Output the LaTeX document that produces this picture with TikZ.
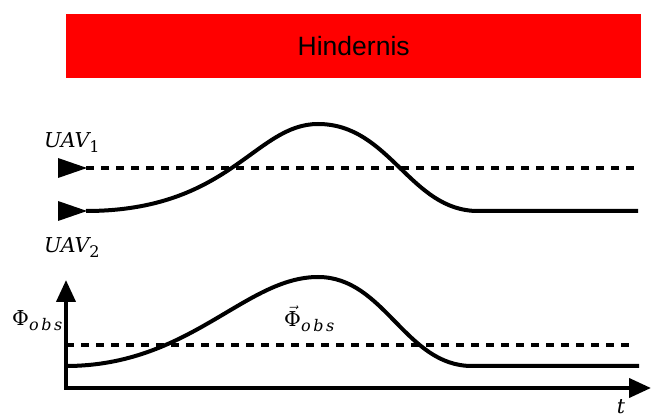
\documentclass[tikz,border=0pt]{standalone}
\usepackage{fontspec}
\setmainfont{DejaVu Serif}
\newfontfamily\hfont{Liberation Sans}
\usetikzlibrary{arrows.meta}
\definecolor{obsred}{RGB}{255,0,0}
\newcommand\mysub[1]{\raisebox{-5pt}{\fontsize{16}{16}\selectfont #1}}
\tikzset{
  curve/.style={line width=4pt, line cap=butt},
  dashline/.style={line width=4pt, dash pattern=on 8pt off 7pt},
  axis/.style={line width=4pt, -{Triangle[length=22pt,width=19pt]}},
  lab/.style={inner sep=0pt, font=\fontsize{20.5}{22}\selectfont},
  tri/.style={fill=black, draw=none}
}
\begin{document}
\begin{tikzpicture}[x=1pt,y=-1pt]
\useasboundingbox (0,0) rectangle (651,419);
% obstacle
\node[fill=obsred, draw=none, minimum width=575pt, minimum height=64pt, inner sep=0pt, anchor=north west,
      font=\hfont\fontsize{26.5}{28}\selectfont] (obs) at (66,14) {Hindernis};
% UAV 1
\coordinate (u1s) at (86,168);
\coordinate (u1e) at (638,168);
\fill[tri] (58,158) -- (87,168) -- (58,178) -- cycle;
\draw[dashline] (u1s) -- (u1e);
\node[lab, anchor=base west] (l1) at (44,148) {\itshape UAV\mysub{\upshape 1}};
% UAV 2
\coordinate (u2s) at (86,211);
\coordinate (u2p) at (318,124);
\coordinate (u2d) at (478,211);
\coordinate (u2e) at (638,211);
\fill[tri] (58,201) -- (87,211) -- (58,221) -- cycle;
\draw[curve] (u2s) .. controls (230,211) and (255,124) .. (u2p)
  .. controls (390,124) and (410,211) .. (u2d) -- (u2e);
\node[lab, anchor=base west] (l2) at (44,253) {\itshape UAV\mysub{\upshape 2}};
% axes
\coordinate (o) at (66,388);
\coordinate (ytop) at (66,280);
\coordinate (xend) at (651,388);
\draw[axis] ([yshift=2pt]o) -- (ytop);
\draw[axis] ([xshift=-2pt]o) -- (xend);
\node[lab, anchor=base west] (phi) at (12,326) {Φ\mysub{\itshape o\,b\,s}};
\node[lab, anchor=base] (tl) at (621,414) {\itshape t};
% potential
\coordinate (ds) at (66,345);
\coordinate (de) at (630,345);
\draw[dashline] (ds) -- (de);
\coordinate (ps) at (66,366);
\coordinate (pp) at (318,277);
\coordinate (pd) at (472,366);
\coordinate (pe) at (639,366);
\draw[curve] (ps) .. controls (190,366) and (245,277) .. (pp)
  .. controls (385,277) and (405,366) .. (pd) -- (pe);
\node[lab, anchor=base west] (vphi) at (284,327) {$\vec{\mbox{Φ}}$\mysub{\itshape o\,b\,s}};
\end{tikzpicture}
\end{document}
